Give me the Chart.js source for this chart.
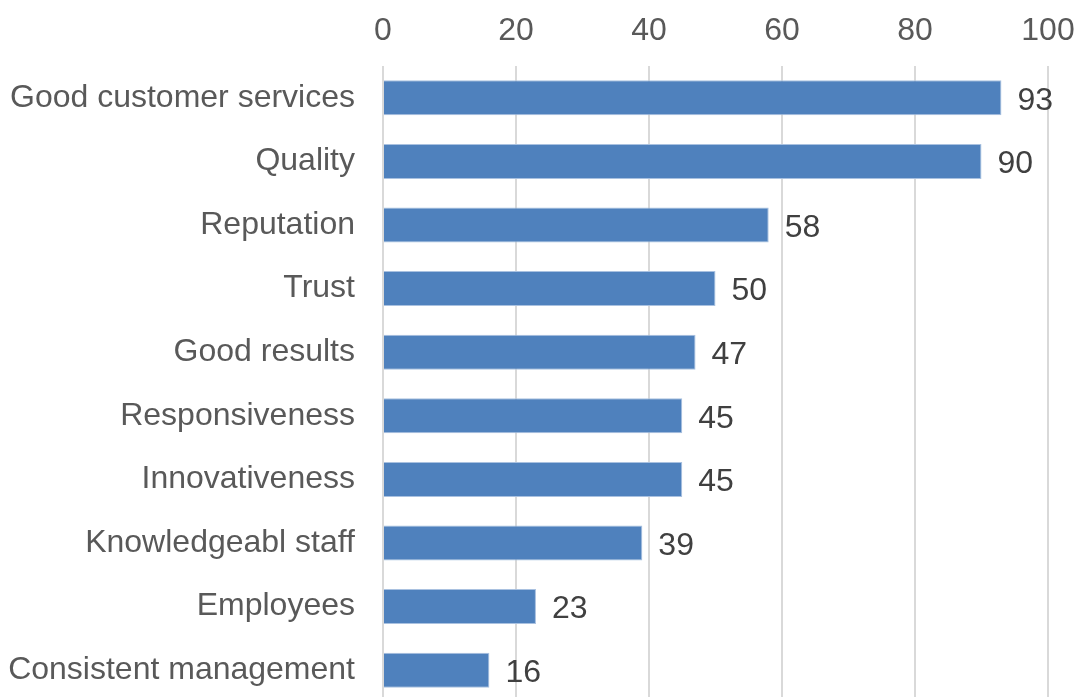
<!DOCTYPE html>
<html>
<head>
<meta charset="utf-8">
<script src="https://cdn.jsdelivr.net/npm/chart.js@4"></script>
<style>
  html, body { margin: 0; padding: 0; background: #fff; overflow: hidden; }
  canvas { display: block; }
</style>
</head>
<body>
<canvas id="myChart" width="1085" height="703"></canvas>
<script>
// categories, top to bottom
const categories = [
  "Good customer services",
  "Quality",
  "Reputation",
  "Trust",
  "Good results",
  "Responsiveness",
  "Innovativeness",
  "Knowledgeabl staff",
  "Employees",
  "Consistent management"
];
const values = [93, 90, 58, 50, 47, 45, 45, 39, 23, 16];
const axisMin = 0;
const axisMax = 100;
const axisStep = 20;

const FONT = "'Liberation Sans', Arial, sans-serif";

// draws the number just right of each bar
const valueLabels = {
  id: "valueLabels",
  afterDatasetsDraw(chart) {
    const ctx = chart.ctx;
    const meta = chart.getDatasetMeta(0);
    ctx.save();
    ctx.font = "32px " + FONT;
    ctx.fillStyle = "#404040";
    ctx.textAlign = "left";
    ctx.textBaseline = "middle";
    meta.data.forEach((bar, i) => {
      ctx.fillText(String(values[i]), bar.x + 16, bar.y + 3);
    });
    ctx.restore();
  }
};

const ctx = document.getElementById("myChart");
new Chart(ctx, {
  type: "bar",
  data: {
    labels: categories,
    datasets: [
      {
        data: values,
        backgroundColor: "#4F81BD",
        borderColor: "#A9C1E0",
        borderWidth: 1,
        barPercentage: 0.55,
        categoryPercentage: 1.0
      }
    ]
  },
  options: {
    indexAxis: "y",
    responsive: false,
    animation: false,
    layout: {
      padding: { top: 0, right: 37, bottom: 1, left: 0 }
    },
    plugins: {
      legend: { display: false },
      tooltip: { enabled: false }
    },
    scales: {
      x: {
        position: "top",
        min: axisMin,
        max: axisMax,
        border: { display: false },
        grid: { color: "#D9D9D9", lineWidth: 2, drawTicks: false },
        ticks: {
          stepSize: axisStep,
          color: "#595959",
          font: { family: FONT, size: 32 },
          padding: 16
        },
        afterFit(scale) {
          scale.height = 66;
          scale.paddingLeft = 0;
          scale.paddingRight = 0;
        }
      },
      y: {
        border: { display: false },
        grid: { display: false, drawTicks: false },
        ticks: {
          color: "#595959",
          font: { family: FONT, size: 32 },
          padding: 28
        },
        afterFit(scale) {
          scale.width = 383;
          scale.paddingTop = 0;
          scale.paddingBottom = 0;
        }
      }
    }
  },
  plugins: [valueLabels]
});
</script>
</body>
</html>
